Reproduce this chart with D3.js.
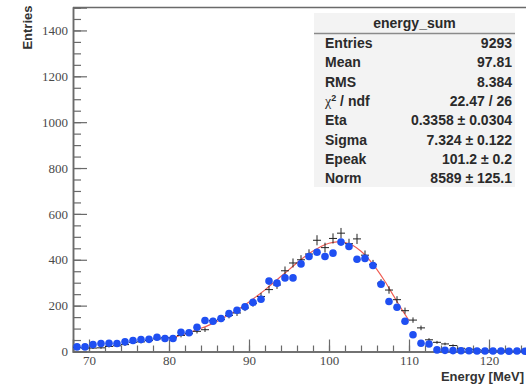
<!DOCTYPE html>
<html>
<head>
<meta charset="utf-8">
<script src="https://d3js.org/d3.v7.min.js"></script>
<style>
  html, body { margin: 0; padding: 0; background: #ffffff; overflow: hidden; }
  svg { display: block; }
</style>
</head>
<body>
<svg id="chart" width="526" height="387"></svg>
<script>
// energy_sum histogram: bin centres (1 MeV bins)
const binCenters = [
  68.5, 69.5, 70.5, 71.5, 72.5, 73.5, 74.5, 75.5, 76.5, 77.5,
  78.5, 79.5, 80.5, 81.5, 82.5, 83.5, 84.5, 85.5, 86.5, 87.5,
  88.5, 89.5, 90.5, 91.5, 92.5, 93.5, 94.5, 95.5, 96.5, 97.5,
  98.5, 99.5, 100.5, 101.5, 102.5, 103.5, 104.5, 105.5, 106.5, 107.5,
  108.5, 109.5, 110.5, 111.5, 112.5, 113.5, 114.5, 115.5, 116.5, 117.5,
  118.5, 119.5, 120.5, 121.5, 122.5, 123.5, 124.5
];

// Filled blue markers
const blueCounts = [
  20, 20, 30, 35, 36, 35, 42, 48, 52, 53,
  62, 57, 57, 84, 82, 106, 135, 132, 144, 165,
  180, 195, 214, 228, 307, 298, 321, 321, 382, 414,
  433, 414, 429, 477, 458, 402, 406, 375, 293, 218,
  193, 132, 73, 36, 33, 7, 5, 4, 3, 3,
  2, 2, 2, 2, 1, 2, 1
];

// Black error-bar crosses
const crossCounts = [
  18, 15, 15, 16, 22, 25, 30, 40, 42, 48,
  55, 60, 60, 70, 78, 88, 95, 135, 140, 157,
  168, 190, 210, 240, 270, 290, 352, 386, 400, 425,
  485, 453, 493, 516, 470, 491, 420, 380, 298, 268,
  226, 178, 137, 103, 51, 40, 33, 26, 14, 10,
  7, 5, 3, 3, 2, 2, 1
];

// Fitted curve over the fit range (80 - 110 MeV)
const fitEnergy = [
  80, 81, 82, 83, 84, 85, 86, 87, 88, 89, 90, 91, 92, 93, 94, 95,
  96, 97, 98, 99, 100, 101, 102, 103, 104, 105, 106, 107, 108, 109, 110
];
const fitValue = [
  57, 66, 76, 88, 101, 115, 131, 150, 170, 192, 216, 242, 269, 298, 328, 357,
  387, 414, 438, 458, 472, 478, 475, 462, 437, 402, 357, 305, 247, 189, 135
];

// Axis ticks
const xMajorTicks = [70, 80, 90, 100, 110, 120];
const xMinorTicks = [70, 72, 74, 76, 78, 80, 82, 84, 86, 88, 90, 92, 94, 96, 98, 100,
                     102, 104, 106, 108, 110, 112, 114, 116, 118, 120, 122, 124];
const yMajorTicks = [0, 200, 400, 600, 800, 1000, 1200, 1400];
const yMinorTicks = [0, 50, 100, 150, 200, 250, 300, 350, 400, 450, 500, 550, 600, 650, 700,
                     750, 800, 850, 900, 950, 1000, 1050, 1100, 1150, 1200, 1250, 1300,
                     1350, 1400, 1450, 1500];

// Statistics box
const statsTitle = "energy_sum";
const statsLabels = ["Entries", "Mean", "RMS", "CHI2", "Eta", "Sigma", "Epeak", "Norm"];
const statsValues = ["9293", "97.81", "8.384", "22.47 / 26", "0.3358 \u00b1 0.0304",
                     "7.324 \u00b1 0.122", "101.2 \u00b1 0.2", "8589 \u00b1 125.1"];

const svg = d3.select("#chart");

const x = d3.scaleLinear().domain([68, 125]).range([73, 529]);
const y = d3.scaleLinear().domain([0, 1500]).range([351.5, 7.5]);

const axisColor = "#6a6a6a";
const labelFont = "'Liberation Serif', 'Times New Roman', serif";
const sansFont = "'Liberation Sans', Arial, Helvetica, sans-serif";

// Frame top line
svg.append("line")
  .attr("x1", x(68)).attr("x2", x(125))
  .attr("y1", y(1500)).attr("y2", y(1500))
  .attr("stroke", axisColor).attr("stroke-width", 1.5);

// Y axis: minor then major ticks (pointing inward)
const yMinor = svg.append("g").attr("transform", `translate(${x(68)},0)`)
  .call(d3.axisLeft(y).tickValues(yMinorTicks).tickSize(-8).tickFormat(""));
const yMajor = svg.append("g").attr("transform", `translate(${x(68)},0)`)
  .call(d3.axisLeft(y).tickValues(yMajorTicks).tickSize(-14).tickPadding(5)
    .tickFormat(d3.format("d")));

// X axis: minor then major ticks (pointing inward)
const xMinor = svg.append("g").attr("transform", `translate(0,${y(0)})`)
  .call(d3.axisBottom(x).tickValues(xMinorTicks).tickSize(-6).tickFormat(""));
const xMajor = svg.append("g").attr("transform", `translate(0,${y(0)})`)
  .call(d3.axisBottom(x).tickValues(xMajorTicks).tickSize(-12).tickPadding(4)
    .tickFormat(d3.format("d")));

[yMinor, yMajor, xMinor, xMajor].forEach(g => {
  g.select(".domain").attr("stroke", axisColor).attr("stroke-width", 1.5);
  g.selectAll(".tick line").attr("stroke", axisColor).attr("stroke-width", 1.2);
  g.selectAll(".tick text")
    .attr("fill", "#4a4a4a")
    .style("font-family", labelFont)
    .style("font-size", "13px");
});

// Axis titles
svg.append("text")
  .attr("transform", `translate(32,${y(1500) - 2}) rotate(-90)`)
  .attr("text-anchor", "end")
  .style("font-family", sansFont).style("font-weight", "bold").style("font-size", "13px")
  .attr("fill", "#333")
  .text("Entries");

svg.append("text")
  .attr("x", 524).attr("y", 381)
  .attr("text-anchor", "end")
  .style("font-family", sansFont).style("font-weight", "bold").style("font-size", "13px")
  .attr("fill", "#333")
  .text("Energy [MeV]");

const bins = binCenters.map((c, i) => ({ c, blue: blueCounts[i], cross: crossCounts[i] }));

// Fit curve
const fitPts = fitEnergy.map((e, i) => [e, fitValue[i]]);
svg.append("path")
  .datum(fitPts)
  .attr("fill", "none")
  .attr("stroke", "#f05a50")
  .attr("stroke-width", 1.1)
  .attr("d", d3.line().x(d => x(d[0])).y(d => y(d[1])).curve(d3.curveCatmullRom));

// Error-bar crosses: bin width horizontally, Poisson error vertically
const crosses = svg.append("g").attr("stroke", "#222").attr("stroke-width", 1);
crosses.selectAll("line.h").data(bins).join("line").attr("class", "h")
  .attr("x1", d => x(d.c - 0.5)).attr("x2", d => x(d.c + 0.5))
  .attr("y1", d => y(d.cross)).attr("y2", d => y(d.cross));
crosses.selectAll("line.v").data(bins).join("line").attr("class", "v")
  .attr("x1", d => x(d.c)).attr("x2", d => x(d.c))
  .attr("y1", d => y(d.cross + Math.sqrt(d.cross)))
  .attr("y2", d => y(Math.max(0, d.cross - Math.sqrt(d.cross))));

// Blue filled markers
svg.append("g").selectAll("circle").data(bins).join("circle")
  .attr("cx", d => x(d.c)).attr("cy", d => y(d.blue))
  .attr("r", 3.8)
  .attr("fill", "#1f4ff2");

// Statistics box
const box = svg.append("g");
const bx = 314, by = 13, bw = 201, bh = 174;
box.append("rect").attr("x", bx).attr("y", by).attr("width", bw).attr("height", bh)
  .attr("fill", "#f3f3f3");
box.append("line").attr("x1", bx).attr("x2", bx + bw).attr("y1", 33.5).attr("y2", 33.5)
  .attr("stroke", "#8a8a8a").attr("stroke-width", 1.5);
box.append("text")
  .attr("x", bx + bw / 2).attr("y", 28)
  .attr("text-anchor", "middle")
  .style("font-family", sansFont).style("font-weight", "bold").style("font-size", "14px")
  .attr("fill", "#2a2a2a")
  .text(statsTitle);

const rowY = i => 48 + i * 19.3;
statsLabels.forEach((lab, i) => {
  const t = box.append("text")
    .attr("x", 325).attr("y", rowY(i))
    .style("font-family", sansFont).style("font-weight", "bold").style("font-size", "14px")
    .attr("fill", "#2a2a2a");
  if (lab === "CHI2") {
    t.append("tspan").style("font-family", labelFont).style("font-weight", "normal").text("\u03c7");
    t.append("tspan").attr("dy", -5).style("font-size", "9px").text("2");
    t.append("tspan").attr("dy", 5).text(" / ndf");
  } else {
    t.text(lab);
  }
  box.append("text")
    .attr("x", 512).attr("y", rowY(i))
    .attr("text-anchor", "end")
    .style("font-family", sansFont).style("font-weight", "bold").style("font-size", "14px")
    .attr("fill", "#2a2a2a")
    .text(statsValues[i]);
});
</script>
</body>
</html>
